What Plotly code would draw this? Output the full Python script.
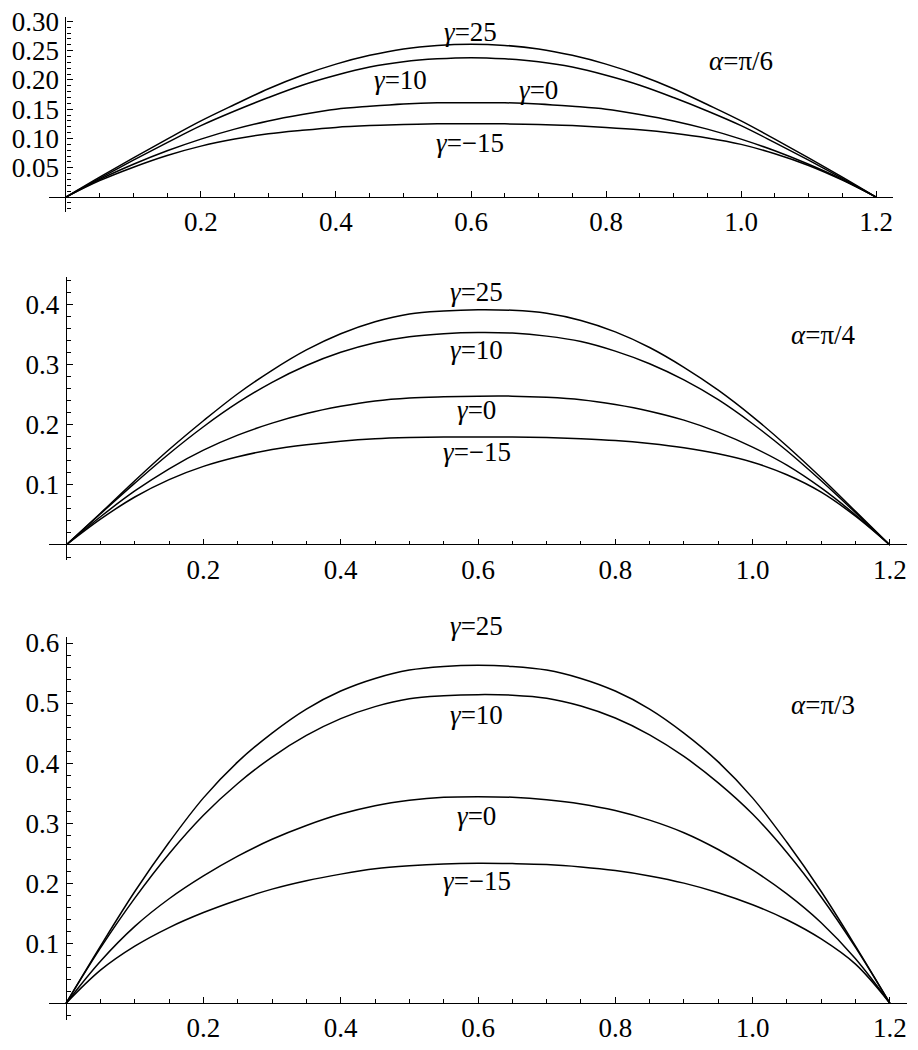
import plotly.graph_objects as go

# the page body keeps its default 8px margin, so the figure is drawn that much
# smaller and all pixel boxes below are shifted back by it
OFF = 8
W, H = 918 - 2 * OFF, 1050 - 2 * OFF

# sample positions, every 0.05 from 0 to 1.2
x_vals = [0, 0.05, 0.1, 0.15, 0.2, 0.25, 0.3, 0.35, 0.4, 0.45, 0.5, 0.55, 0.6,
          0.65, 0.7, 0.75, 0.8, 0.85, 0.9, 0.95, 1.0, 1.05, 1.1, 1.15, 1.2]

# alpha = pi/6
p1_g25 = [0, 0.034, 0.067, 0.099, 0.130, 0.158, 0.185, 0.208, 0.227, 0.242, 0.253, 0.259, 0.261,
          0.259, 0.253, 0.242, 0.227, 0.208, 0.185, 0.158, 0.130, 0.099, 0.067, 0.034, 0]
p1_g10 = [0, 0.032, 0.063, 0.093, 0.122, 0.147, 0.170, 0.191, 0.208, 0.222, 0.231, 0.236, 0.238,
          0.236, 0.231, 0.222, 0.208, 0.191, 0.170, 0.147, 0.122, 0.093, 0.063, 0.032, 0]
p1_g0 = [0, 0.030, 0.056, 0.079, 0.099, 0.116, 0.130, 0.141, 0.150, 0.155, 0.159, 0.161, 0.161,
         0.161, 0.159, 0.155, 0.150, 0.141, 0.130, 0.116, 0.099, 0.079, 0.056, 0.030, 0]
p1_gm15 = [0, 0.028, 0.051, 0.071, 0.087, 0.099, 0.108, 0.114, 0.119, 0.122, 0.124, 0.125, 0.125,
           0.125, 0.124, 0.122, 0.119, 0.115, 0.109, 0.101, 0.090, 0.074, 0.054, 0.029, 0]

# alpha = pi/4
p2_g25 = [0, 0.053, 0.107, 0.159, 0.207, 0.252, 0.291, 0.325, 0.352, 0.372, 0.385, 0.390, 0.392,
          0.391, 0.386, 0.374, 0.355, 0.329, 0.296, 0.258, 0.214, 0.165, 0.112, 0.056, 0]
p2_g10 = [0, 0.052, 0.103, 0.152, 0.197, 0.237, 0.271, 0.299, 0.321, 0.337, 0.347, 0.352, 0.354,
          0.353, 0.348, 0.339, 0.323, 0.302, 0.275, 0.242, 0.202, 0.157, 0.107, 0.054, 0]
p2_g0 = [0, 0.047, 0.090, 0.127, 0.158, 0.183, 0.203, 0.219, 0.231, 0.240, 0.245, 0.247, 0.248,
         0.248, 0.246, 0.242, 0.234, 0.223, 0.208, 0.188, 0.163, 0.133, 0.095, 0.050, 0]
p2_gm15 = [0, 0.043, 0.080, 0.109, 0.131, 0.147, 0.159, 0.167, 0.173, 0.177, 0.179, 0.180, 0.180,
           0.180, 0.179, 0.177, 0.174, 0.169, 0.162, 0.152, 0.138, 0.117, 0.088, 0.048, 0]

# alpha = pi/3
p3_g25 = [0, 0.095, 0.186, 0.268, 0.342, 0.402, 0.450, 0.490, 0.520, 0.541, 0.555, 0.561, 0.563,
          0.561, 0.555, 0.541, 0.520, 0.490, 0.450, 0.402, 0.342, 0.268, 0.186, 0.095, 0]
p3_g10 = [0, 0.092, 0.175, 0.249, 0.313, 0.366, 0.410, 0.446, 0.474, 0.494, 0.507, 0.512, 0.514,
          0.513, 0.508, 0.495, 0.475, 0.447, 0.411, 0.367, 0.315, 0.251, 0.177, 0.093, 0]
p3_g0 = [0, 0.070, 0.128, 0.174, 0.212, 0.245, 0.273, 0.296, 0.315, 0.329, 0.338, 0.343, 0.344,
         0.343, 0.339, 0.332, 0.321, 0.305, 0.284, 0.256, 0.222, 0.182, 0.134, 0.074, 0]
p3_gm15 = [0, 0.055, 0.095, 0.126, 0.151, 0.172, 0.190, 0.204, 0.215, 0.224, 0.229, 0.232, 0.233,
           0.2325, 0.231, 0.227, 0.221, 0.212, 0.200, 0.184, 0.164, 0.139, 0.107, 0.065, 0]

x_ticks = [0.2, 0.4, 0.6, 0.8, 1.0, 1.2]
x_ticktext = ["0.2", "0.4", "0.6", "0.8", "1.0", "1.2"]
p1_yticks = [0.05, 0.10, 0.15, 0.20, 0.25, 0.30]
p1_yticktext = ["0.05", "0.10", "0.15", "0.20", "0.25", "0.30"]
p2_yticks = [0.1, 0.2, 0.3, 0.4]
p3_yticks = [0.1, 0.2, 0.3, 0.4, 0.5, 0.6]

gamma_labels = ["γ=25", "γ=10", "γ=0", "γ=−15"]

# one dict per panel: curves, label spots, axis setup (pixel boxes)
panels = [
    dict(
        curves=[p1_g25, p1_g10, p1_g0, p1_gm15],
        label_pos=[(0.599, 0.282), (0.496, 0.200), (0.70, 0.183), (0.599, 0.092)],
        alpha_text="α=π/6", alpha_pos=(1.0, 0.232),
        yticks=p1_yticks, yticktext=p1_yticktext, yminor=0.01,
        xrange=[-0.025, 1.225], yrange=[-0.025, 0.308],
        box=(49, 893, 16.7, 211.7),
    ),
    dict(
        curves=[p2_g25, p2_g10, p2_g0, p2_gm15],
        label_pos=[(0.598, 0.422), (0.598, 0.325), (0.598, 0.225), (0.598, 0.1555)],
        alpha_text="α=π/4", alpha_pos=(1.103, 0.35),
        yticks=p2_yticks, yticktext=[str(v) for v in p2_yticks], yminor=0.02,
        xrange=[-0.025, 1.225], yrange=[-0.025, 0.447],
        box=(49, 907, 276.7, 560),
    ),
    dict(
        curves=[p3_g25, p3_g10, p3_g0, p3_gm15],
        label_pos=[(0.598, 0.629), (0.598, 0.48), (0.598, 0.311), (0.598, 0.203)],
        alpha_text="α=π/3", alpha_pos=(1.103, 0.497),
        yticks=p3_yticks, yticktext=[str(v) for v in p3_yticks], yminor=0.02,
        xrange=[-0.025, 1.225], yrange=[-0.028, 0.61],
        box=(49, 907, 637, 1020),
    ),
]

FONT = "Liberation Serif, Times New Roman, serif"
FS = 27

fig = go.Figure()
layout = dict(
    width=W,
    height=H,
    margin=dict(l=0, r=0, t=0, b=0),
    paper_bgcolor="white",
    plot_bgcolor="white",
    showlegend=False,
    font=dict(family=FONT, size=FS, color="black"),
)
annotations = []

for i, p in enumerate(panels, start=1):
    xa = "x" if i == 1 else f"x{i}"
    ya = "y" if i == 1 else f"y{i}"
    x0, x1, top, bottom = (v - OFF for v in p["box"])
    xdom = [x0 / W, x1 / W]
    ydom = [1 - bottom / H, 1 - top / H]
    xr, yr = p["xrange"], p["yrange"]
    # paper positions of the data zero lines, so the axes cross at the origin
    y_zero = ydom[0] + (0 - yr[0]) / (yr[1] - yr[0]) * (ydom[1] - ydom[0])
    x_zero = xdom[0] + (0 - xr[0]) / (xr[1] - xr[0]) * (xdom[1] - xdom[0])
    px_per_y = (bottom - top) / (yr[1] - yr[0])

    for ys in p["curves"]:
        fig.add_trace(
            go.Scatter(
                x=x_vals, y=ys, mode="lines", xaxis=xa, yaxis=ya,
                line=dict(color="black", width=1.5, shape="spline", smoothing=1.0),
                hoverinfo="skip",
            )
        )

    layout["xaxis" if i == 1 else f"xaxis{i}"] = dict(
        domain=xdom, range=xr, anchor="free", position=y_zero, automargin=False,
        showgrid=False, showline=False, zeroline=True,
        zerolinecolor="black", zerolinewidth=1.2,
        tickmode="array", tickvals=x_ticks, ticktext=x_ticktext,
        ticks="inside", ticklen=6, tickwidth=1.2, tickcolor="black",
        ticklabelstandoff=6, tickfont=dict(size=FS), ticklabeloverflow="allow",
        minor=dict(tickmode="linear", tick0=0, dtick=0.05, ticks="inside",
                   ticklen=4, tickwidth=1, tickcolor="black"),
        fixedrange=True,
    )
    layout["yaxis" if i == 1 else f"yaxis{i}"] = dict(
        domain=ydom, range=yr, anchor="free", position=x_zero, automargin=False,
        showgrid=False, showline=False, zeroline=True,
        zerolinecolor="black", zerolinewidth=1.2,
        tickmode="array", tickvals=p["yticks"], ticktext=p["yticktext"],
        ticks="inside", ticklen=6, tickwidth=1.2, tickcolor="black",
        ticklabelstandoff=7, tickfont=dict(size=FS), ticklabeloverflow="allow",
        minor=dict(tickmode="linear", tick0=0, dtick=p["yminor"], ticks="inside",
                   ticklen=4, tickwidth=1, tickcolor="black"),
        fixedrange=True,
    )

    for text, (lx, ly) in zip(gamma_labels, p["label_pos"]):
        # labels above the axis top are pinned to the top and shifted up in pixels
        y_in = min(ly, yr[1])
        annotations.append(dict(
            x=lx, y=y_in, yshift=(ly - y_in) * px_per_y, xref=xa, yref=ya,
            showarrow=False, text=text.replace("γ", "<i>γ</i>"), font=dict(size=FS),
        ))
    ax, ay = p["alpha_pos"]
    annotations.append(dict(
        x=ax, y=ay, xref=xa, yref=ya, showarrow=False,
        text=p["alpha_text"].replace("α", "<i>α</i>"), font=dict(size=FS),
    ))

layout["annotations"] = annotations
fig.update_layout(**layout)

fig.write_html("out.html")
